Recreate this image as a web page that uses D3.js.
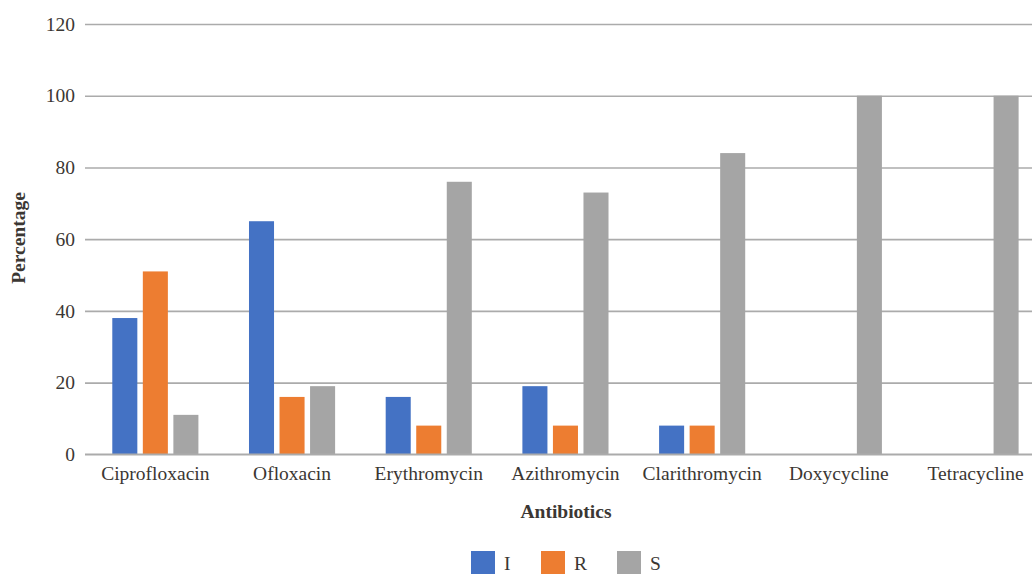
<!DOCTYPE html>
<html>
<head>
<meta charset="utf-8">
<script src="https://cdn.jsdelivr.net/npm/d3@7/dist/d3.min.js"></script>
<style>
  html, body { margin: 0; padding: 0; background: #fff; overflow: hidden; }
  svg { display: block; }
</style>
</head>
<body>
<svg id="chart" width="1032" height="574" font-family="'Liberation Serif', 'Times New Roman', serif"></svg>
<script>
// Antibiotic susceptibility profile (I = intermediate, R = resistant, S = susceptible)
const antibiotics = ["Ciprofloxacin", "Ofloxacin", "Erythromycin", "Azithromycin", "Clarithromycin", "Doxycycline", "Tetracycline"];
const seriesNames = ["I", "R", "S"];
const valuesI = [38, 65, 16, 19, 8, 0, 0];
const valuesR = [51, 16, 8, 8, 8, 0, 0];
const valuesS = [11, 19, 76, 73, 84, 100, 100];
const yTicks = [0, 20, 40, 60, 80, 100, 120];
const colors = ["#4472C4", "#ED7D31", "#A5A5A5"];

const seriesValues = [valuesI, valuesR, valuesS];
const rows = antibiotics.map((name, i) => ({
  name,
  vals: seriesNames.map((s, k) => ({ key: s, value: seriesValues[k][i], color: colors[k] }))
}));

const svg = d3.select("#chart");
const serif = "'Liberation Serif', 'Times New Roman', serif";
const left = 87, step = 136.7;
const x = d3.scaleBand().domain(antibiotics).range([left, left + step * antibiotics.length])
  .paddingInner(0.37).paddingOuter(0.185);
const xInner = d3.scaleBand().domain(seriesNames).range([0, x.bandwidth()]).paddingInner(0.18);
const y = d3.scaleLinear().domain([0, 120]).range([454.3, 24]);

const textColor = "#3b3733";
const fontSize = 19.5;

// Horizontal gridlines and value labels
const yAxis = d3.axisLeft(y).tickValues(yTicks).tickSize(-(1100 - 85)).tickPadding(10);
const gy = svg.append("g").attr("transform", "translate(85,0)").call(yAxis)
  .attr("font-family", serif).attr("font-size", fontSize);
gy.select(".domain").remove();
gy.selectAll(".tick line").attr("stroke", "#ababab").attr("stroke-width", 1.6);
gy.selectAll(".tick text").attr("fill", textColor).attr("x", -10);

// Bars
const groups = svg.append("g").selectAll("g").data(rows).join("g")
  .attr("transform", d => `translate(${x(d.name)},0)`);
groups.selectAll("rect").data(d => d.vals.filter(v => v.value > 0)).join("rect")
  .attr("x", v => xInner(v.key))
  .attr("width", xInner.bandwidth())
  .attr("y", v => y(v.value))
  .attr("height", v => y(0) - y(v.value))
  .attr("fill", v => v.color);

// Category axis
const xAxis = d3.axisBottom(x).tickSize(0).tickPadding(12);
const gx = svg.append("g").attr("transform", `translate(0,${y(0)})`).call(xAxis)
  .attr("font-family", serif).attr("font-size", fontSize);
gx.select(".domain").attr("stroke", "#ababab").attr("stroke-width", 1.6).attr("d", `M85,0H1100`);
gx.selectAll(".tick text").attr("fill", textColor);

// Axis titles
svg.append("text").attr("x", 566).attr("y", 518).attr("text-anchor", "middle")
  .attr("font-weight", "bold").attr("font-size", fontSize).attr("fill", textColor).text("Antibiotics");
svg.append("text").attr("transform", "translate(25,238) rotate(-90)").attr("text-anchor", "middle")
  .attr("font-weight", "bold").attr("font-size", fontSize).attr("fill", textColor).text("Percentage");

// Legend
const legendX = [471, 541, 617];
const legend = svg.append("g").selectAll("g").data(seriesNames).join("g")
  .attr("transform", (d, i) => `translate(${legendX[i]},551)`);
legend.append("rect").attr("width", 24).attr("height", 24).attr("fill", (d, i) => colors[i]);
legend.append("text").attr("x", 33).attr("y", 19).attr("font-size", fontSize).attr("fill", textColor).text(d => d);
</script>
</body>
</html>
